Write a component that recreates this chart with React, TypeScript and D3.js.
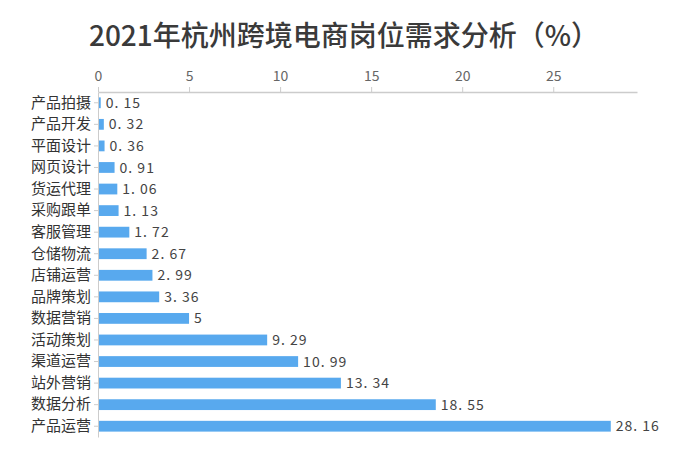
import React, { useEffect, useRef } from 'react';
import * as d3 from 'd3';

const categories = [
  '产品拍摄', '产品开发', '平面设计', '网页设计', '货运代理', '采购跟单', '客服管理', '仓储物流',
  '店铺运营', '品牌策划', '数据营销', '活动策划', '渠道运营', '站外营销', '数据分析', '产品运营',
];
const values = [0.15, 0.32, 0.36, 0.91, 1.06, 1.13, 1.72, 2.67, 2.99, 3.36, 5, 9.29, 10.99, 13.34, 18.55, 28.16];
const ticks = [0, 5, 10, 15, 20, 25];
const title = '2021年杭州跨境电商岗位需求分析（%）';

const FONT = '"Noto Sans CJK SC", "Noto Sans", sans-serif';

const App: React.FC = () => {
  const svgRef = useRef<SVGSVGElement>(null);

  useEffect(() => {
    if (!svgRef.current) return;
    const root = d3.select(svgRef.current);
    root.selectAll('*').remove();

    const margin = { top: 92, left: 98, right: 63, bottom: 33 };
    const width = 700 - margin.left - margin.right;
    const height = 470 - margin.top - margin.bottom;

    // Title
    root
      .append('text')
      .attr('x', 344)
      .attr('y', 46)
      .attr('text-anchor', 'middle')
      .attr('font-family', FONT)
      .attr('font-size', 28)
      .attr('font-weight', 500)
      .attr('fill', '#3a3a3a')
      .text(title);

    const svg = root.append('g').attr('transform', `translate(${margin.left},${margin.top})`);

    const x = d3.scaleLinear().domain([0, 29.6]).range([0, width]);
    const y = d3.scaleBand().domain(categories).range([0, height]).paddingInner(0.5).paddingOuter(0.25);

    // Top axis
    const xAxis = svg.append('g').call(d3.axisTop(x).tickValues(ticks).tickSize(5).tickSizeOuter(0).tickPadding(6));
    xAxis.select('.domain').attr('stroke', '#ccc').attr('stroke-width', 1.5);
    xAxis.selectAll('.tick line').attr('stroke', '#ccc');
    xAxis
      .selectAll('.tick text')
      .attr('fill', '#666')
      .attr('font-size', 14)
      .attr('font-family', FONT);

    // Left axis
    const yAxis = svg.append('g').call(d3.axisLeft(y).tickSize(4).tickSizeOuter(0).tickPadding(3));
    yAxis.select('.domain').attr('stroke', '#ccc');
    yAxis.selectAll('.tick line').attr('stroke', '#ccc');
    yAxis
      .selectAll('.tick text')
      .attr('fill', '#333')
      .attr('font-size', 15)
      .attr('font-family', FONT);

    // Bars
    svg
      .selectAll('.bar')
      .data(values)
      .enter()
      .append('rect')
      .attr('class', 'bar')
      .attr('x', 1)
      .attr('y', (d, i) => y(categories[i]) as number)
      .attr('width', d => Math.max(0, x(d) - 1))
      .attr('height', y.bandwidth())
      .attr('fill', '#58a9ee');

    // Value labels
    svg
      .selectAll('.val')
      .data(values)
      .enter()
      .append('text')
      .attr('class', 'val')
      .attr('x', d => x(d) + 5)
      .attr('y', (d, i) => (y(categories[i]) as number) + y.bandwidth() / 2)
      .attr('dy', '0.36em')
      .attr('font-size', 14)
      .attr('font-family', FONT)
      .attr('letter-spacing', 1)
      .attr('fill', '#444')
      .text(d => String(d).replace('.', '. '));
  }, []);

  return <svg ref={svgRef} width={684} height={470} style={{ display: 'block', margin: '-8px' }} />;
};

export default App;
